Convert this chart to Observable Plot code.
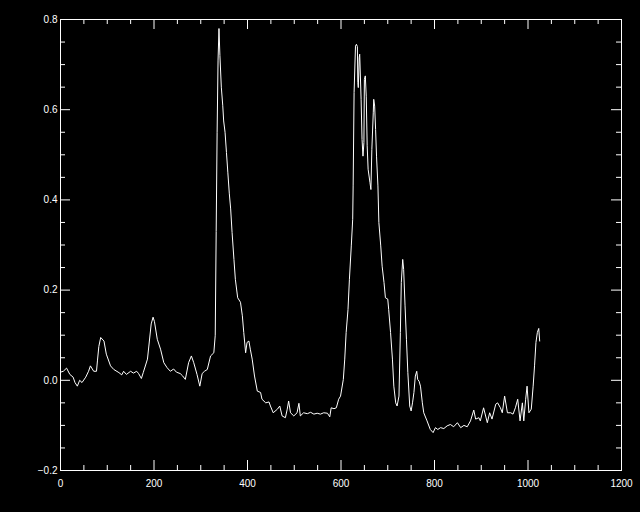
<!DOCTYPE html>
<html>
<head>
<meta charset="utf-8">
<script src="https://cdn.jsdelivr.net/npm/d3@7"></script>
<script src="https://cdn.jsdelivr.net/npm/@observablehq/plot@0.6"></script>
<style>
  html, body { margin: 0; padding: 0; background: #000; }
  #chart svg { display: block; }
</style>
</head>
<body>
<div id="chart"></div>
<script>
// Spectrum samples
const xs = [0,6,13,20,27,31,36,41,46,54,60,64,71,77,79,82,86,93,98,107,114,125,131,135,141,150,156,163,167,173,177,186,189,194,198,201,207,214,221,228,235,242,248,256,261,267,274,280,285,292,298,303,308,314,321,328,331,333,335,337,339,341,344,347,349,352,355,358,361,364,367,371,374,379,385,389,392,396,399,403,406,410,415,421,428,431,439,446,449,455,464,469,474,481,485,488,492,499,506,510,513,520,528,535,542,549,556,563,571,576,579,585,590,595,599,605,608,611,615,618,622,625,626,628,631,633,635,636,637,639,640,643,645,647,649,650,652,654,656,658,662,664,666,669,670,672,674,676,679,681,685,688,692,695,700,702,706,710,713,717,720,724,727,729,732,734,737,740,743,747,750,753,756,759,762,764,767,770,774,777,784,791,797,802,807,813,820,827,834,841,849,856,863,870,877,884,888,895,898,905,913,918,923,931,935,941,945,950,956,963,968,973,978,983,988,991,995,998,1002,1007,1011,1014,1017,1020,1023,1025];
const ys = [0.018,0.02,0.027,0.013,0.007,-0.005,-0.013,0.0,-0.005,0.007,0.02,0.032,0.02,0.02,0.043,0.075,0.095,0.087,0.058,0.032,0.024,0.017,0.012,0.02,0.013,0.02,0.016,0.02,0.015,0.004,0.017,0.047,0.076,0.125,0.14,0.13,0.091,0.069,0.039,0.028,0.02,0.025,0.018,0.015,0.01,0.002,0.039,0.054,0.039,0.013,-0.013,0.015,0.02,0.024,0.054,0.061,0.1,0.33,0.55,0.71,0.78,0.72,0.65,0.61,0.575,0.55,0.505,0.46,0.415,0.38,0.328,0.268,0.224,0.183,0.173,0.143,0.106,0.061,0.084,0.087,0.069,0.047,0.0095,-0.024,-0.027,-0.042,-0.05,-0.048,-0.057,-0.072,-0.064,-0.057,-0.079,-0.083,-0.064,-0.046,-0.072,-0.079,-0.072,-0.051,-0.079,-0.072,-0.074,-0.071,-0.075,-0.073,-0.075,-0.072,-0.073,-0.081,-0.061,-0.063,-0.061,-0.042,-0.035,0.002,0.047,0.106,0.157,0.224,0.298,0.357,0.431,0.638,0.741,0.745,0.74,0.66,0.649,0.716,0.723,0.623,0.534,0.497,0.527,0.667,0.675,0.63,0.52,0.468,0.438,0.423,0.512,0.593,0.623,0.608,0.556,0.497,0.431,0.35,0.298,0.253,0.217,0.183,0.18,0.157,0.106,0.047,-0.013,-0.05,-0.057,-0.035,0.106,0.217,0.268,0.246,0.165,0.091,0.017,-0.057,-0.068,-0.05,-0.027,0.0095,0.02,0.002,-0.002,-0.013,-0.05,-0.072,-0.09,-0.109,-0.116,-0.105,-0.109,-0.105,-0.107,-0.101,-0.098,-0.103,-0.094,-0.105,-0.1,-0.103,-0.09,-0.066,-0.086,-0.083,-0.09,-0.061,-0.094,-0.072,-0.086,-0.053,-0.05,-0.061,-0.072,-0.035,-0.072,-0.072,-0.075,-0.061,-0.042,-0.09,-0.05,-0.09,-0.042,-0.013,-0.072,-0.064,-0.013,0.032,0.084,0.106,0.115,0.087];

// Tick values
const xMajor = [0, 200, 400, 600, 800, 1000, 1200];
const xMinor = [50, 100, 150, 250, 300, 350, 450, 500, 550, 650, 700, 750, 850, 900, 950, 1050, 1100, 1150];
const yMajor = [-0.2, 0.0, 0.2, 0.4, 0.6, 0.8];
const yMinor = [-0.15, -0.1, -0.05, 0.05, 0.1, 0.15, 0.25, 0.3, 0.35, 0.45, 0.5, 0.55, 0.65, 0.7, 0.75];

const W = 640, H = 512;
const mL = 60, mR = 19, mT = 19, mB = 42;
const innerH = H - mT - mB;
const innerW = W - mL - mR;
const major = 10, minor = 5;
const fg = "#ffffff";

const data = xs.map((x, i) => ({x, y: ys[i]}));
const yFmt = d => (d < 0 ? "\u2212" : "") + Math.abs(d).toFixed(1);

const chart = Plot.plot({
  width: W,
  height: H,
  marginLeft: mL,
  marginRight: mR,
  marginTop: mT,
  marginBottom: mB,
  style: {background: "#000", color: fg, fontFamily: "'Liberation Sans', Arial, sans-serif", fontSize: "10px"},
  x: {domain: [0, 1200]},
  y: {domain: [-0.2, 0.8]},
  marks: [
    Plot.frame({stroke: fg}),
    // bottom & top ticks (inward)
    Plot.tickX(xMajor, {x: d => d, stroke: fg, insetTop: innerH - major}),
    Plot.tickX(xMajor, {x: d => d, stroke: fg, insetBottom: innerH - major}),
    Plot.tickX(xMinor, {x: d => d, stroke: fg, insetTop: innerH - minor}),
    Plot.tickX(xMinor, {x: d => d, stroke: fg, insetBottom: innerH - minor}),
    // left & right ticks (inward)
    Plot.tickY(yMajor, {y: d => d, stroke: fg, insetRight: innerW - major}),
    Plot.tickY(yMajor, {y: d => d, stroke: fg, insetLeft: innerW - major}),
    Plot.tickY(yMinor, {y: d => d, stroke: fg, insetRight: innerW - minor}),
    Plot.tickY(yMinor, {y: d => d, stroke: fg, insetLeft: innerW - minor}),
    Plot.axisX({ticks: xMajor, tickSize: 0, tickPadding: 9, tickFormat: d => String(d), label: null}),
    Plot.axisY({ticks: yMajor, tickSize: 0, tickPadding: 3, tickFormat: yFmt, label: null}),
    Plot.line(data, {x: "x", y: "y", stroke: fg, strokeWidth: 1})
  ]
});
document.getElementById("chart").appendChild(chart);
</script>
</body>
</html>
